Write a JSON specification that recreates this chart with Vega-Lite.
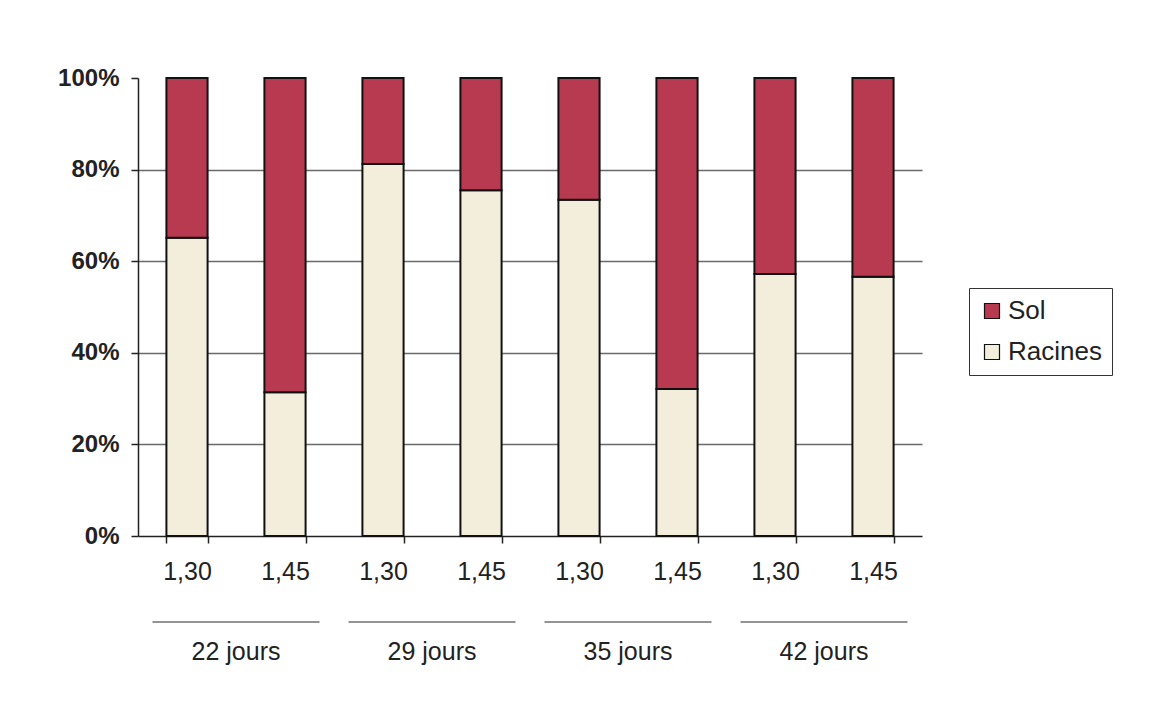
{
  "$schema": "https://vega.github.io/schema/vega-lite/v6.json",
  "width": 784,
  "height": 458,
  "autosize": {"type": "none"},
  "padding": {"left": 138, "top": 78, "right": 243, "bottom": 173},
  "background": "white",
  "config": {
    "font": "Liberation Sans",
    "view": {"stroke": null}
  },
  "datasets": {
    "barres": [
      {"barre": "22 jours 1,30", "groupe": "22 jours", "densite": "1,30", "type": "Racines", "ordre": 1, "valeur": 65.1},
      {"barre": "22 jours 1,30", "groupe": "22 jours", "densite": "1,30", "type": "Sol", "ordre": 2, "valeur": 34.9},
      {"barre": "22 jours 1,45", "groupe": "22 jours", "densite": "1,45", "type": "Racines", "ordre": 1, "valeur": 31.4},
      {"barre": "22 jours 1,45", "groupe": "22 jours", "densite": "1,45", "type": "Sol", "ordre": 2, "valeur": 68.6},
      {"barre": "29 jours 1,30", "groupe": "29 jours", "densite": "1,30", "type": "Racines", "ordre": 1, "valeur": 81.2},
      {"barre": "29 jours 1,30", "groupe": "29 jours", "densite": "1,30", "type": "Sol", "ordre": 2, "valeur": 18.8},
      {"barre": "29 jours 1,45", "groupe": "29 jours", "densite": "1,45", "type": "Racines", "ordre": 1, "valeur": 75.5},
      {"barre": "29 jours 1,45", "groupe": "29 jours", "densite": "1,45", "type": "Sol", "ordre": 2, "valeur": 24.5},
      {"barre": "35 jours 1,30", "groupe": "35 jours", "densite": "1,30", "type": "Racines", "ordre": 1, "valeur": 73.4},
      {"barre": "35 jours 1,30", "groupe": "35 jours", "densite": "1,30", "type": "Sol", "ordre": 2, "valeur": 26.6},
      {"barre": "35 jours 1,45", "groupe": "35 jours", "densite": "1,45", "type": "Racines", "ordre": 1, "valeur": 32.1},
      {"barre": "35 jours 1,45", "groupe": "35 jours", "densite": "1,45", "type": "Sol", "ordre": 2, "valeur": 67.9},
      {"barre": "42 jours 1,30", "groupe": "42 jours", "densite": "1,30", "type": "Racines", "ordre": 1, "valeur": 57.2},
      {"barre": "42 jours 1,30", "groupe": "42 jours", "densite": "1,30", "type": "Sol", "ordre": 2, "valeur": 42.8},
      {"barre": "42 jours 1,45", "groupe": "42 jours", "densite": "1,45", "type": "Racines", "ordre": 1, "valeur": 56.6},
      {"barre": "42 jours 1,45", "groupe": "42 jours", "densite": "1,45", "type": "Sol", "ordre": 2, "valeur": 43.4}
    ],
    "groupes": [
      {"groupe": "22 jours"},
      {"groupe": "29 jours"},
      {"groupe": "35 jours"},
      {"groupe": "42 jours"}
    ]
  },
  "layer": [
    {
      "data": {"name": "barres"},
      "mark": {"type": "bar", "stroke": "#111111", "strokeWidth": 2},
      "encoding": {
        "x": {
          "field": "barre",
          "type": "nominal",
          "sort": ["22 jours 1,30", "22 jours 1,45", "29 jours 1,30", "29 jours 1,45", "35 jours 1,30", "35 jours 1,45", "42 jours 1,30", "42 jours 1,45"],
          "scale": {"paddingInner": 0.58, "paddingOuter": 0.29},
          "axis": {
            "title": null,
            "labelExpr": "slice(datum.label, -4)",
            "labelAngle": 0,
            "labelFontSize": 25,
            "labelColor": "#222222",
            "labelPadding": 16,
            "tickBand": "extent",
            "tickSize": 7,
            "tickColor": "#222222",
            "tickWidth": 1.5,
            "domainColor": "#222222",
            "domainWidth": 1.5,
            "grid": false
          }
        },
        "y": {
          "field": "valeur",
          "type": "quantitative",
          "stack": "normalize",
          "scale": {"domain": [0, 1], "nice": false},
          "axis": {
            "title": null,
            "format": ".0%",
            "values": [0, 0.2, 0.4, 0.6, 0.8, 1],
            "labelFontSize": 24,
            "labelFontWeight": "bold",
            "labelColor": "#222222",
            "labelPadding": 12,
            "tickSize": 7,
            "tickColor": "#222222",
            "tickWidth": 1.5,
            "domainColor": "#222222",
            "domainWidth": 1.5,
            "grid": true,
            "gridColor": "#6a6a6a",
            "gridWidth": 1.3,
            "gridOpacity": {"condition": {"test": "datum.value >= 1 || datum.value <= 0", "value": 0}, "value": 1}
          }
        },
        "color": {
          "field": "type",
          "type": "nominal",
          "scale": {"domain": ["Sol", "Racines"], "range": ["#b83a50", "#f3eedb"]},
          "legend": {
            "title": null,
            "orient": "none",
            "legendX": 831,
            "legendY": 210,
            "symbolType": "square",
            "symbolSize": 225,
            "symbolStrokeColor": "#111111",
            "symbolStrokeWidth": 1.2,
            "symbolOpacity": 1,
            "labelFontSize": 26,
            "labelColor": "#222222",
            "labelOffset": 3,
            "rowPadding": 15,
            "padding": 10,
            "strokeColor": "#333333",
            "fillColor": "white"
          }
        },
        "order": {"field": "ordre", "type": "quantitative"}
      }
    },
    {
      "data": {"name": "groupes"},
      "mark": {"type": "tick", "orient": "horizontal", "size": 167, "thickness": 1.5, "color": "#333333"},
      "encoding": {
        "x": {"field": "groupe", "type": "nominal", "scale": {"paddingInner": 0, "paddingOuter": 0}, "axis": null},
        "y": {"datum": -0.188, "type": "quantitative"}
      }
    },
    {
      "data": {"name": "groupes"},
      "mark": {"type": "text", "fontSize": 25, "baseline": "middle", "color": "#222222"},
      "encoding": {
        "x": {"field": "groupe", "type": "nominal", "scale": {"paddingInner": 0, "paddingOuter": 0}, "axis": null},
        "y": {"datum": -0.253, "type": "quantitative"},
        "text": {"field": "groupe"}
      }
    }
  ],
  "resolve": {"scale": {"x": "independent"}}
}
